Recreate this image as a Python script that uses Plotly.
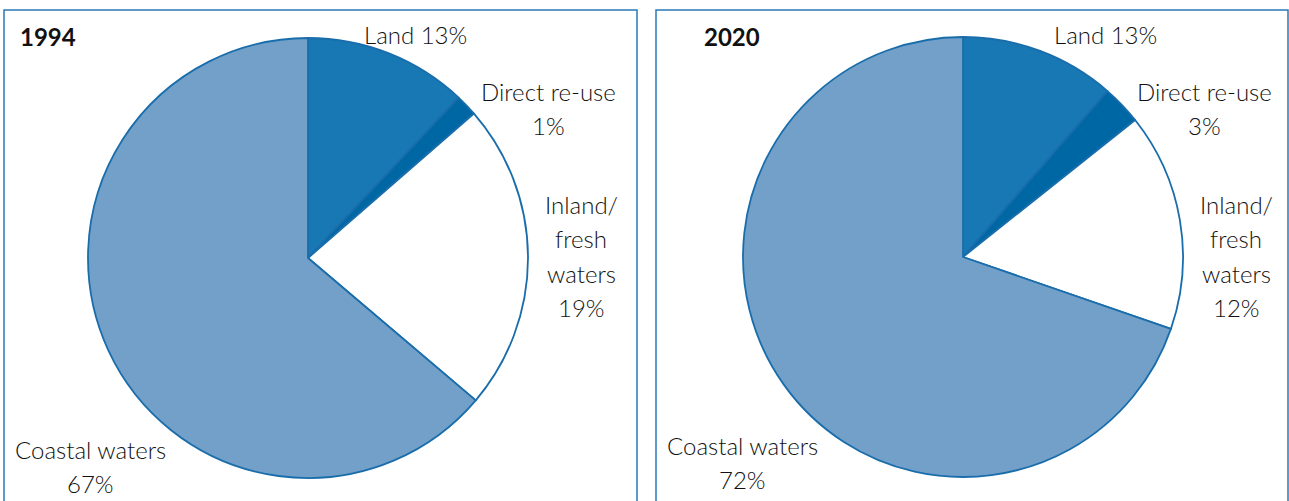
import plotly.graph_objects as go

# Categories and values
categories = ["Land", "Direct re-use", "Inland/fresh waters", "Coastal waters"]
years = ["1994", "2020"]
# slice shares as drawn in the picture (%)
shares_1994 = [12.0, 1.6, 22.6, 63.8]
shares_2020 = [11.4, 2.9, 16.0, 69.7]
# printed percentages
pct_1994 = ["13%", "1%", "19%", "67%"]
pct_2020 = ["13%", "3%", "12%", "72%"]

slice_colors = ["#1878b4", "#0067a5", "#ffffff", "#72a0c9"]
line_color = "#1a6dab"
W, H = 1289, 501
FONT = "Lato"
FS = 24

fig = go.Figure()

domains = [
    dict(x=[88 / W, 528 / W], y=[23 / H, 463 / H]),
    dict(x=[743 / W, 1183 / W], y=[24 / H, 464 / H]),
]
for shares, dom in zip([shares_1994, shares_2020], domains):
    fig.add_trace(go.Pie(
        labels=categories, values=shares, sort=False, direction="clockwise",
        rotation=0, textinfo="none", hoverinfo="label+percent",
        marker=dict(colors=slice_colors, line=dict(color=line_color, width=1.8)),
        domain=dom, showlegend=False,
    ))

# panel frames
fig.add_shape(type="rect", xref="paper", yref="paper",
              x0=4 / W, x1=637 / W, y0=-0.05, y1=(H - 10) / H,
              line=dict(color="#2a7ab8", width=1.5))
fig.add_shape(type="rect", xref="paper", yref="paper",
              x0=656 / W, x1=1288 / W, y0=-0.05, y1=(H - 10) / H,
              line=dict(color="#2a7ab8", width=1.5))

def txt(x, y, s, bold=False, anchor="center"):
    fig.add_annotation(x=x / W, y=(H - y) / H, xref="paper", yref="paper",
                       text=f"<b>{s}</b>" if bold else s, showarrow=False,
                       xanchor=anchor, yanchor="middle",
                       font=dict(family=FONT, size=FS, color="#111111",
                                 weight=700 if bold else 300))

def multiline(cx, ytop, lines, step=34.5):
    for i, ln in enumerate(lines):
        txt(cx, ytop + i * step, ln)

label_pos = [
    dict(year_x=18, land=(415, 35), direct=(548, 91), inland=(581, 204), coastal=(90, 449)),
    dict(year_x=702, land=(1105, 35), direct=(1204, 91), inland=(1236, 204), coastal=(743, 445)),
]
for yr, pct, pos in zip(years, [pct_1994, pct_2020], label_pos):
    txt(pos["year_x"], 36, yr, bold=True, anchor="left")
    txt(*pos["land"], f"{categories[0]} {pct[0]}")
    multiline(pos["direct"][0], pos["direct"][1], [categories[1], pct[1]])
    multiline(pos["inland"][0], pos["inland"][1], ["Inland/", "fresh", "waters", pct[2]])
    multiline(pos["coastal"][0], pos["coastal"][1], [categories[3], pct[3]])

fig.update_layout(width=W, height=H, margin=dict(l=0, r=0, t=0, b=0),
                  paper_bgcolor="white", plot_bgcolor="white")
fig.write_html("out.html", config={"displayModeBar": False},
               post_script="document.body.style.margin='0';document.body.style.overflow='hidden';")
